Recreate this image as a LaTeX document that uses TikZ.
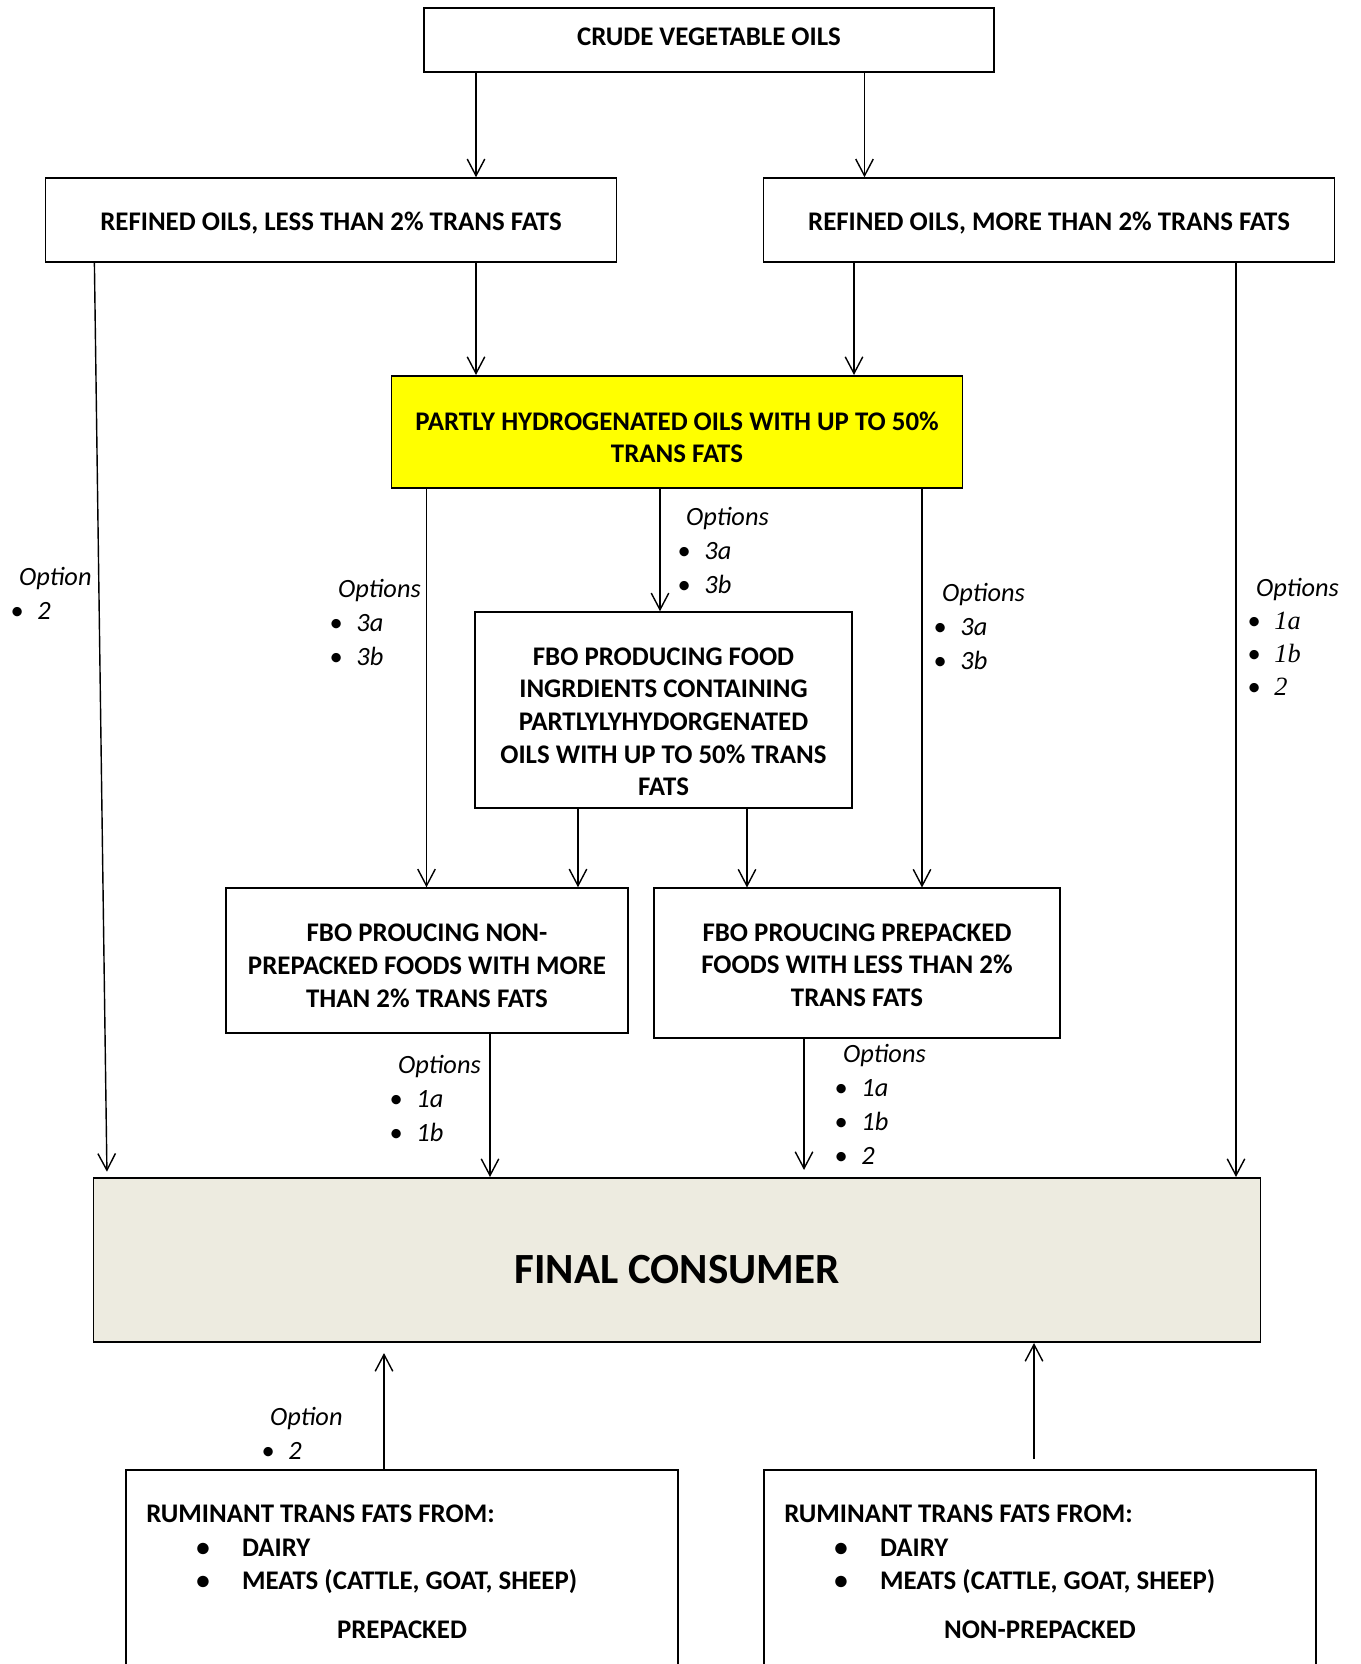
\documentclass[tikz,border=0pt]{standalone}
\usepackage{fontspec}
\setmainfont{Carlito}
\newfontfamily\numfont{Liberation Serif}
\usetikzlibrary{arrows.meta}

\definecolor{phoyellow}{RGB}{255,255,0}
\definecolor{consumerbeige}{RGB}{237,235,224}

\newcommand{\optitem}[1]{\makebox[15.4pt][l]{\textbullet}#1}

\begin{document}
\begin{tikzpicture}[x=0.02cm,y=-0.02cm,
    box/.style={draw, line width=0.9pt, inner sep=0pt},
    boxtxt/.style={inner sep=0pt, align=center,
        font=\fontsize{15.3}{18.6}\selectfont\bfseries},
    arr/.style={line width=0.8pt, -{Straight Barb[length=9.5pt,width=10pt]}},
    optlbl/.style={anchor=north west, align=left, inner sep=0pt,
        font=\fontsize{15}{19.3}\selectfont\itshape}]

\useasboundingbox (0,0) rectangle (1360,1664);

% ----------------------------------------------------------
% Oil stages
% ----------------------------------------------------------
\node[box, minimum width=11.4cm, minimum height=1.27cm] (crude) at (709,40) {};
\node[boxtxt] (crudetxt) at (709,36.8) {CRUDE VEGETABLE OILS};

\node[box, minimum width=11.42cm, minimum height=1.68cm] (lessref) at (331,220) {};
\node[boxtxt] (lessreftxt) at (331,223.2) {REFINED OILS, LESS THAN 2\% TRANS FATS};

\node[box, minimum width=11.42cm, minimum height=1.68cm] (moreref) at (1049,220) {};
\node[boxtxt] (morereftxt) at (1049,223.2) {REFINED OILS, MORE THAN 2\% TRANS FATS};

\node[box, fill=phoyellow, minimum width=11.42cm, minimum height=2.25cm] (pho) at (677,432) {};
\node[boxtxt] (photxt) at (677,437.3) {PARTLY HYDROGENATED OILS WITH UP TO 50\%\\TRANS FATS};

% ----------------------------------------------------------
% Food business operators
% ----------------------------------------------------------
\node[box, minimum width=7.54cm, minimum height=3.92cm] (ingr) at (663.5,710) {};
\node[boxtxt] (ingrtxt) at (663.5,721.7)
    {FBO PRODUCING FOOD\\INGRDIENTS CONTAINING\\PARTLYLYHYDORGENATED\\OILS WITH UP TO 50\% TRANS\\FATS};

\node[box, minimum width=8.04cm, minimum height=2.9cm] (nonpre) at (427,960.5) {};
\node[boxtxt] (nonpretxt) at (427,965.8)
    {FBO PROUCING NON-\\PREPACKED FOODS WITH MORE\\THAN 2\% TRANS FATS};

\node[box, minimum width=8.13cm, minimum height=2.99cm] (pre) at (857,963) {};
\node[boxtxt] (pretxt) at (857,965.1)
    {FBO PROUCING PREPACKED\\FOODS WITH LESS THAN 2\%\\TRANS FATS};

% ----------------------------------------------------------
% Final consumer
% ----------------------------------------------------------
\node[box, fill=consumerbeige, minimum width=23.34cm, minimum height=3.29cm] (final) at (677,1260) {};
\node[boxtxt, font=\fontsize{24.5}{29}\selectfont\bfseries] (finaltxt) at (677,1269.5) {FINAL CONSUMER};

% ----------------------------------------------------------
% Ruminant trans fats (boxes run off the page)
% ----------------------------------------------------------
\foreach \nm/\cx/\lbl in {rumpre/402/PREPACKED, rumnon/1040/NON-PREPACKED} {
    \node[box, minimum width=11.05cm, minimum height=4.6cm] (\nm) at (\cx,1585) {};
    \node[boxtxt, anchor=west] (\nm hd) at (\cx-256,1514) {RUMINANT TRANS FATS FROM:};
    \node[boxtxt, anchor=west] (\nm a) at (\cx-206,1548) {\makebox[26pt][l]{\textbullet}DAIRY};
    \node[boxtxt, anchor=west] (\nm b) at (\cx-206,1582) {\makebox[26pt][l]{\textbullet}MEATS (CATTLE, GOAT, SHEEP)};
    \node[boxtxt] (\nm lbl) at (\cx,1629.5) {\lbl};
}

% ----------------------------------------------------------
% Connector positions
% ----------------------------------------------------------
\coordinate (xa) at (476,0);
\coordinate (xb) at (864.5,0);
\coordinate (xc) at (854,0);
\coordinate (xd) at (426.5,0);
\coordinate (xe) at (660,0);
\coordinate (xf) at (922,0);
\coordinate (xg) at (578,0);
\coordinate (xh) at (747,0);
\coordinate (xi) at (490,0);
\coordinate (xj) at (804,0);
\coordinate (xk) at (1236,0);
\coordinate (xl) at (384,0);
\coordinate (xm) at (1034,0);
\coordinate (xs) at (94.4,0);
\coordinate (xt) at (107,0);

% ----------------------------------------------------------
% Connectors
% ----------------------------------------------------------
\draw[arr] (crude.south -| xa) -- (lessref.north -| xa);
\draw[arr] (crude.south -| xb) -- (moreref.north -| xb);
\draw[arr] (lessref.south -| xa) -- (pho.north -| xa);
\draw[arr] (moreref.south -| xc) -- (pho.north -| xc);
\draw[arr] (pho.south -| xd) -- (nonpre.north -| xd);
\draw[arr] (pho.south -| xe) -- (ingr.north -| xe);
\draw[arr] (pho.south -| xf) -- (pre.north -| xf);
\draw[arr] (ingr.south -| xg) -- (nonpre.north -| xg);
\draw[arr] (ingr.south -| xh) -- (pre.north -| xh);
\draw[arr] (nonpre.south -| xi) -- (final.north -| xi);
\draw[arr, shorten >=4pt] (pre.south -| xj) -- (final.north -| xj);
\draw[arr, shorten >=3pt] (lessref.south -| xs) -- (final.north -| xt);
\draw[arr] (moreref.south -| xk) -- (final.north -| xk);
\draw[arr, shorten >=5.7pt] (rumpre.north -| xl) -- (final.south -| xl);
\draw[arr, shorten <=5.7pt] (rumnon.north -| xm) -- (final.south -| xm);

% ----------------------------------------------------------
% Option labels
% ----------------------------------------------------------
\node[optlbl] (optL) at (10,567) {\hspace*{5pt}Option\\\optitem{2}};
\node[optlbl] (optNP) at (329,579) {\hspace*{5pt}Options\\\optitem{3a}\\\optitem{3b}};
\node[optlbl] (optIn) at (677,507) {\hspace*{5pt}Options\\\optitem{3a}\\\optitem{3b}};
\node[optlbl] (optPre) at (933,583) {\hspace*{5pt}Options\\\optitem{3a}\\\optitem{3b}};
\node[optlbl, font=\fontsize{15}{18.7}\selectfont\itshape] (optR) at (1247,578)
    {\hspace*{5pt}Options\\\optitem{\numfont 1a}\\\optitem{\numfont 1b}\\\optitem{\numfont 2}};
\node[optlbl] (optNP2) at (389,1055) {\hspace*{5pt}Options\\\optitem{1a}\\\optitem{1b}};
\node[optlbl] (optPre2) at (834,1044) {\hspace*{5pt}Options\\\optitem{1a}\\\optitem{1b}\\\optitem{2}};
\node[optlbl] (optRum) at (261,1407) {\hspace*{5pt}Option\\\optitem{2}};

\end{tikzpicture}
\end{document}
